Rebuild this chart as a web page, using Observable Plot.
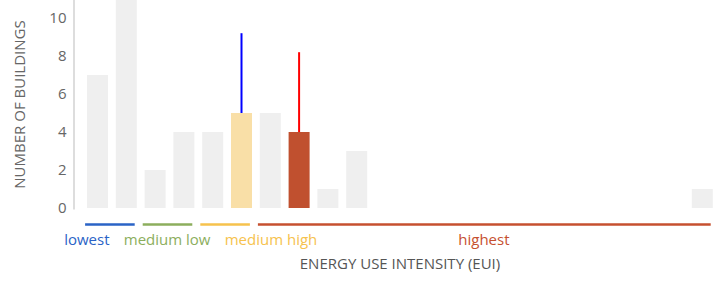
<!DOCTYPE html>
<html>
<head>
<meta charset="utf-8">
<script src="https://cdn.jsdelivr.net/npm/d3@7"></script>
<script src="https://cdn.jsdelivr.net/npm/@observablehq/plot@0.6"></script>
<style>
  html, body { margin: 0; padding: 0; background: #fff; }
  #chart svg { display: block; }
</style>
</head>
<body>
<div id="chart"></div>
<script>
// Histogram bins (index) and number of buildings per bin
const bins = d3.range(22);
const counts = [7, 11, 2, 4, 4, 5, 5, 4, 1, 3, 0, 0, 0, 0, 0, 0, 0, 0, 0, 0, 0, 1];

// Highlighted bins
const highlightBins = [5, 7];
const highlightColors = ["#f9dfa7", "#c0502f"];

// Marker lines rising from highlighted bins
const markerBins = [5, 7];
const markerTops = [9.2, 8.2];
const markerColors = ["#0000ff", "#ff0000"];

// Category groups below the axis
const groupLabels = ["lowest", "medium low", "medium high", "highest"];
const groupStart = [0, 2, 4, 6];
const groupEnd = [2, 4, 6, 22];
const groupColors = ["#2a63c6", "#8cae5d", "#f6c24d", "#c6502f"];

// Y ticks
const yTicks = [0, 2, 4, 6, 8, 10];

const barData = bins.map((b, i) => ({
  bin: b,
  count: counts[i],
  fill: highlightBins.includes(b) ? highlightColors[highlightBins.indexOf(b)] : "#efefef"
}));
const markers = markerBins.map((b, i) => ({
  bin: b,
  base: counts[b],
  top: markerTops[i],
  color: markerColors[i]
}));
const groups = groupLabels.map((l, i) => ({
  label: l,
  start: groupStart[i],
  end: groupEnd[i],
  color: groupColors[i]
}));
const anchors = ["end", "middle", "start", "middle"];

const font = "'Open Sans', 'Noto Sans', sans-serif";

const chart = Plot.plot({
  width: 714,
  height: 281,
  marginTop: 0,
  marginLeft: 73,
  marginRight: 0,
  marginBottom: 73,
  style: { fontFamily: font, fontSize: "15px", color: "#666", background: "#fff" },
  x: { type: "linear", domain: [0, 22], range: [83.1, 716.7], axis: null },
  y: { domain: [0, 11], range: [208, -1], ticks: yTicks, tickSize: 0, tickPadding: 7, label: null },
  marks: [
    Plot.frame({ anchor: "left", stroke: "#ddd", strokeWidth: 2, dx: 0.5 }),
    Plot.rectY(barData, {
      x1: "bin", x2: d => d.bin + 1, y: "count",
      fill: d => d.fill, insetLeft: 3.9, insetRight: 3.9
    }),
    Plot.ruleX(markers, {
      x: d => d.bin + 0.5, y1: "base", y2: "top",
      stroke: d => d.color, strokeWidth: 2, dx: -0.5
    }),
    Plot.ruleY(groups, {
      x1: "start", x2: "end", y: 0, dy: 16,
      stroke: d => d.color, strokeWidth: 2.5, insetLeft: 2, insetRight: 6
    }),
    ...groups.map((g, i) => Plot.text([g], {
      x: d => (d.start + d.end) / 2 - 0.1, y: 0, dy: 32,
      text: "label", fill: d => d.color, textAnchor: anchors[i], fontSize: 15
    })),
    Plot.text(["NUMBER OF BUILDINGS"], {
      frameAnchor: "left", textAnchor: "middle", rotate: -90, dx: -53, fill: "#666", fontSize: 15
    }),
    Plot.text(["ENERGY USE INTENSITY (EUI)"], {
      frameAnchor: "bottom", textAnchor: "middle", dy: 60, dx: 6, fill: "#555", fontSize: 15
    })
  ]
});

document.getElementById("chart").appendChild(chart);
</script>
</body>
</html>
